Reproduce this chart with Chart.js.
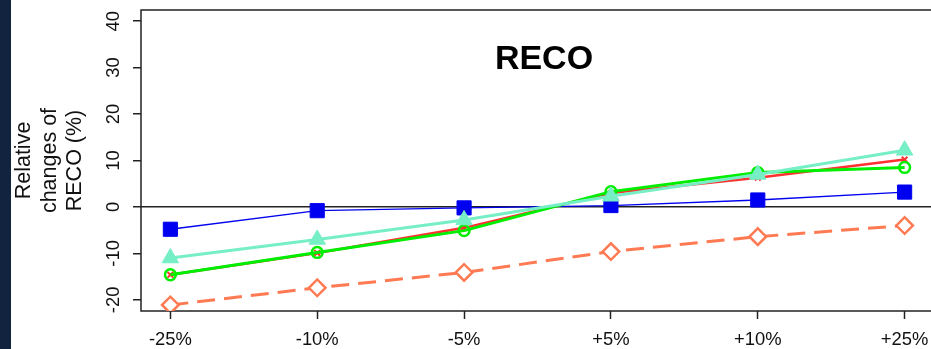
<!DOCTYPE html>
<html>
<head>
<meta charset="utf-8">
<script src="https://cdn.jsdelivr.net/npm/chart.js@4/dist/chart.umd.min.js"></script>
<style>
  html, body { margin: 0; padding: 0; background: #ffffff; overflow: hidden; }
  #wrap { position: relative; width: 934px; height: 349px; }
  #strip { position: absolute; left: 0; top: 0; width: 11px; height: 349px; background: #12233f; z-index: 2; }
  canvas { display: block; }
</style>
</head>
<body>
<div id="wrap">
  <div id="strip"></div>
  <canvas id="chart" width="934" height="349"></canvas>
</div>
<script>
// Perturbation levels on the x axis and the y tick values
const categories = ['-25%', '-10%', '-5%', '+5%', '+10%', '+25%'];
const yTicks = [-20, -10, 0, 10, 20, 30, 40];

// Relative changes of RECO (%) for each series
const blueSquares   = [-4.8, -0.8, -0.2, 0.3, 1.5, 3.2];
const aquaTriangles = [-11.0, -7.0, -2.8, 2.3, 7.0, 12.2];
const greenCircles  = [-14.6, -9.8, -5.1, 3.3, 7.4, 8.5];
const redCrosses    = [-14.6, -9.9, -4.5, 3.0, 6.3, 10.2];
const coralDiamonds = [-21.1, -17.4, -14.1, -9.6, -6.4, -4.0];

const toPoints = vals => vals.map((y, i) => ({ x: i + 1, y }));

const TICK_FONT = { family: '"Liberation Sans", Arial, sans-serif', size: 18.4 };
const AXIS_COLOR = '#222222';

// Box around the plotting region and the panel title
const framePlugin = {
  id: 'frame',
  beforeDatasetsDraw(chart) {
    const { ctx, chartArea: a } = chart;
    ctx.save();
    ctx.strokeStyle = AXIS_COLOR;
    ctx.lineWidth = 1.5;
    ctx.strokeRect(a.left, a.top, a.right - a.left, a.bottom - a.top);
    ctx.fillStyle = '#000000';
    ctx.font = 'bold 34px "Liberation Sans", Arial, sans-serif';
    ctx.textAlign = 'center';
    ctx.textBaseline = 'alphabetic';
    ctx.fillText('RECO', a.left + 403, 69);
    ctx.restore();
  }
};

new Chart(document.getElementById('chart'), {
  type: 'line',
  data: {
    datasets: [
      {
        data: toPoints(aquaTriangles), order: 1,
        borderColor: '#76EEC6', backgroundColor: '#76EEC6', borderWidth: 3,
        pointStyle: 'triangle', pointRadius: 9.5, pointBorderWidth: 1
      },
      {
        data: toPoints(greenCircles), order: 2,
        borderColor: '#00EE00', backgroundColor: 'rgba(0,0,0,0)', borderWidth: 3,
        pointStyle: 'circle', pointRadius: 5.4, pointBorderWidth: 2.5
      },
      {
        data: toPoints(redCrosses), order: 3,
        borderColor: '#FF3030', backgroundColor: '#FF3030', borderWidth: 2.5,
        pointStyle: 'crossRot', pointRadius: 4, pointBorderWidth: 2
      },
      {
        data: toPoints(coralDiamonds), order: 4,
        borderColor: '#FF7A52', backgroundColor: '#ffffff', borderWidth: 3,
        borderDash: [18, 9],
        pointStyle: 'rectRot', pointRadius: 8.3, pointBorderWidth: 2.5
      },
      {
        data: toPoints(blueSquares), order: 5,
        borderColor: '#0000F0', backgroundColor: '#0000F0', borderWidth: 1.3,
        pointStyle: 'rect', pointRadius: 10, pointBorderWidth: 1
      }
    ]
  },
  options: {
    responsive: false,
    animation: false,
    events: [],
    layout: { autoPadding: false, padding: { top: 10, left: 0, right: 0, bottom: 0 } },
    plugins: { legend: { display: false }, tooltip: { enabled: false } },
    elements: { line: { tension: 0 } },
    scales: {
      x: {
        type: 'linear',
        min: 0.8,
        max: 6.2,
        afterBuildTicks: s => { s.ticks = categories.map((_, i) => ({ value: i + 1 })); },
        afterFit: s => { s.height = 38; s.paddingLeft = 0; s.paddingRight = 0; },
        border: { display: false },
        grid: {
          drawOnChartArea: false, drawTicks: true, tickLength: 8,
          tickColor: AXIS_COLOR, tickWidth: 1.5
        },
        ticks: {
          autoSkip: false, maxRotation: 0, minRotation: 0, padding: 10,
          color: '#111111', font: TICK_FONT,
          callback: v => categories[Math.round(v) - 1]
        }
      },
      y: {
        type: 'linear',
        min: -22.4,
        max: 42.4,
        afterBuildTicks: s => { s.ticks = yTicks.map(v => ({ value: v })); },
        afterFit: s => { s.width = 141; s.paddingTop = 0; s.paddingBottom = 0; },
        border: { display: false },
        grid: {
          drawOnChartArea: true, drawTicks: true, tickLength: 8,
          tickColor: AXIS_COLOR, tickWidth: 1.5,
          color: c => (c.tick && c.tick.value === 0) ? AXIS_COLOR : 'rgba(0,0,0,0)',
          lineWidth: 1.5
        },
        ticks: {
          autoSkip: false, minRotation: 90, maxRotation: 90,
          crossAlign: 'center', padding: 6,
          color: '#111111', font: TICK_FONT,
          callback: v => String(v)
        },
        title: {
          display: true,
          text: ['Relative', 'changes of', 'RECO (%)'],
          color: '#111111',
          font: { family: '"Liberation Sans", Arial, sans-serif', size: 21.5, lineHeight: 1.2 },
          padding: { top: 11, bottom: 0 }
        }
      }
    }
  },
  plugins: [framePlugin]
});
</script>
</body>
</html>
